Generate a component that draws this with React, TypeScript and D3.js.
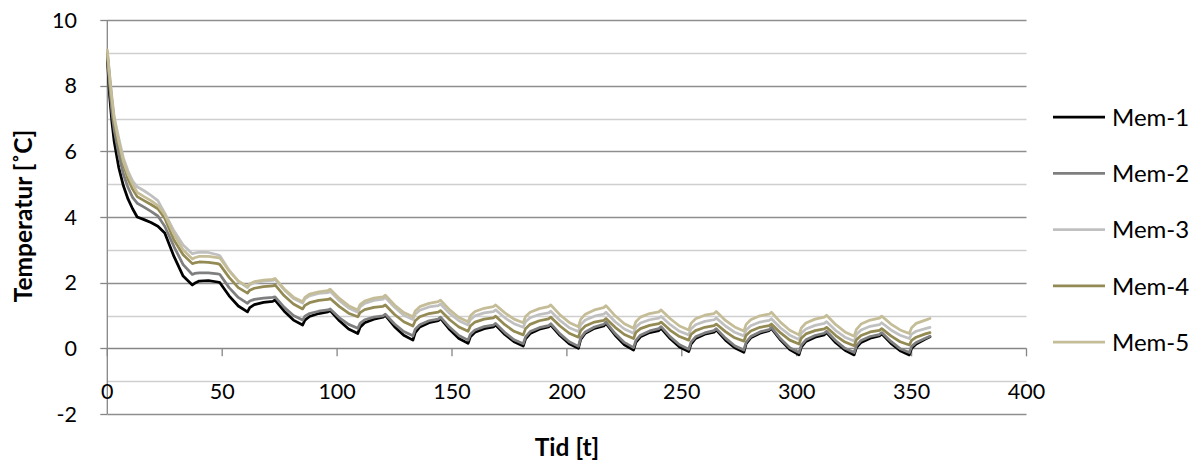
import React from "react";
import * as d3 from "d3";

// Time in hours
const time = [
  0, 1, 2, 3, 5, 7, 9, 11, 13,
  16, 19, 22, 25,
  29, 33, 37,
  38, 40, 44, 48, 49, 53, 57, 61,
  62, 64, 68, 72, 73, 77, 81, 85,
  86, 88, 92, 96, 97, 101, 105, 109,
  110, 112, 116, 120, 121, 125, 129, 133,
  134, 136, 140, 144, 145, 149, 153, 157,
  158, 160, 164, 168, 169, 173, 177, 181,
  182, 184, 188, 192, 193, 197, 201, 205,
  206, 208, 212, 216, 217, 221, 225, 229,
  230, 232, 236, 240, 241, 245, 249, 253,
  254, 256, 260, 264, 265, 269, 273, 277,
  278, 280, 284, 288, 289, 293, 297, 301,
  302, 304, 308, 312, 313, 317, 321, 325,
  326, 328, 332, 336, 337, 341, 345, 349,
  350, 352, 356, 358,
];

const mem1 = [
  8.85, 7.7, 6.9, 6.3, 5.5, 4.95, 4.55, 4.25, 4.0,
  3.92, 3.83, 3.72, 3.51,
  2.8, 2.2, 1.93,
  1.98, 2.05, 2.06, 2.02, 2.0, 1.6, 1.29, 1.11,
  1.24, 1.33, 1.4, 1.43, 1.47, 1.13, 0.86, 0.71,
  0.86, 0.97, 1.06, 1.11, 1.15, 0.84, 0.59, 0.45,
  0.64, 0.78, 0.89, 0.95, 1.0, 0.66, 0.4, 0.25,
  0.48, 0.65, 0.78, 0.84, 0.91, 0.57, 0.3, 0.15,
  0.35, 0.49, 0.6, 0.65, 0.71, 0.42, 0.2, 0.07,
  0.29, 0.45, 0.58, 0.65, 0.71, 0.39, 0.14, 0.0,
  0.27, 0.46, 0.61, 0.68, 0.76, 0.4, 0.11, -0.05,
  0.18, 0.35, 0.48, 0.54, 0.61, 0.29, 0.04, -0.1,
  0.13, 0.3, 0.43, 0.49, 0.56, 0.25, 0.02, -0.12,
  0.14, 0.32, 0.46, 0.54, 0.61, 0.25, -0.04, -0.2,
  0.04, 0.21, 0.34, 0.41, 0.48, 0.17, -0.06, -0.2,
  0.02, 0.18, 0.31, 0.38, 0.44, 0.15, -0.07, -0.2,
  0.0, 0.13, 0.28, 0.35,
];

const mem2 = [
  8.95, 8.0, 7.2, 6.65, 5.9, 5.3, 4.9, 4.6, 4.42,
  4.3, 4.17, 4.03, 3.72,
  3.1, 2.55, 2.25,
  2.28, 2.3, 2.3, 2.27, 2.25, 1.85, 1.55, 1.37,
  1.44, 1.49, 1.53, 1.55, 1.57, 1.25, 1.0, 0.86,
  0.98, 1.06, 1.13, 1.17, 1.2, 0.93, 0.73, 0.61,
  0.76, 0.87, 0.95, 0.99, 1.04, 0.74, 0.51, 0.38,
  0.58, 0.72, 0.84, 0.89, 0.95, 0.64, 0.39, 0.25,
  0.43, 0.56, 0.66, 0.71, 0.76, 0.48, 0.26, 0.14,
  0.35, 0.51, 0.63, 0.69, 0.75, 0.44, 0.2, 0.06,
  0.32, 0.5, 0.65, 0.73, 0.8, 0.45, 0.18, 0.02,
  0.24, 0.4, 0.53, 0.6, 0.66, 0.35, 0.11, -0.03,
  0.19, 0.35, 0.47, 0.54, 0.6, 0.31, 0.08, -0.05,
  0.19, 0.36, 0.5, 0.57, 0.64, 0.29, 0.02, -0.13,
  0.1, 0.26, 0.39, 0.46, 0.52, 0.23, 0.0, -0.13,
  0.08, 0.24, 0.36, 0.42, 0.48, 0.21, -0.01, -0.13,
  0.06, 0.18, 0.31, 0.37,
];

const mem3 = [
  9.05, 8.35, 7.65, 7.05, 6.4, 5.8, 5.4, 5.1, 4.92,
  4.8, 4.66, 4.5, 4.12,
  3.58, 3.15, 2.88,
  2.9, 2.93, 2.92, 2.85, 2.82, 2.38, 2.04, 1.85,
  1.94, 2.0, 2.05, 2.07, 2.1, 1.78, 1.52, 1.38,
  1.51, 1.6, 1.67, 1.7, 1.74, 1.45, 1.23, 1.1,
  1.26, 1.37, 1.46, 1.5, 1.55, 1.25, 1.01, 0.88,
  1.04, 1.16, 1.26, 1.3, 1.35, 1.06, 0.84, 0.71,
  0.87, 0.99, 1.08, 1.12, 1.17, 0.93, 0.75, 0.64,
  0.81, 0.93, 1.03, 1.08, 1.13, 0.85, 0.63, 0.51,
  0.72, 0.86, 0.98, 1.04, 1.1, 0.81, 0.59, 0.46,
  0.64, 0.77, 0.87, 0.92, 0.97, 0.72, 0.52, 0.41,
  0.59, 0.72, 0.82, 0.87, 0.92, 0.68, 0.49, 0.38,
  0.56, 0.69, 0.8, 0.85, 0.9, 0.62, 0.4, 0.27,
  0.46, 0.59, 0.7, 0.76, 0.81, 0.54, 0.34, 0.22,
  0.42, 0.56, 0.67, 0.72, 0.78, 0.56, 0.4, 0.3,
  0.43, 0.52, 0.6, 0.64,
];

const mem4 = [
  9.0, 8.2, 7.5, 6.9, 6.2, 5.6, 5.15, 4.85, 4.62,
  4.5, 4.38, 4.25, 3.96,
  3.3, 2.85, 2.58,
  2.6, 2.63, 2.62, 2.58, 2.55, 2.16, 1.85, 1.68,
  1.77, 1.83, 1.88, 1.9, 1.93, 1.6, 1.35, 1.2,
  1.31, 1.39, 1.46, 1.49, 1.52, 1.27, 1.07, 0.96,
  1.09, 1.18, 1.25, 1.28, 1.32, 1.03, 0.81, 0.68,
  0.84, 0.96, 1.06, 1.1, 1.15, 0.87, 0.65, 0.52,
  0.68, 0.8, 0.89, 0.93, 0.98, 0.72, 0.52, 0.41,
  0.6, 0.73, 0.84, 0.9, 0.95, 0.68, 0.46, 0.34,
  0.54, 0.68, 0.8, 0.85, 0.91, 0.64, 0.42, 0.3,
  0.48, 0.6, 0.7, 0.75, 0.8, 0.55, 0.36, 0.25,
  0.42, 0.54, 0.64, 0.69, 0.74, 0.51, 0.32, 0.22,
  0.4, 0.53, 0.64, 0.69, 0.74, 0.47, 0.25, 0.13,
  0.31, 0.44, 0.54, 0.59, 0.64, 0.39, 0.19, 0.08,
  0.26, 0.39, 0.5, 0.55, 0.6, 0.38, 0.2, 0.1,
  0.24, 0.34, 0.44, 0.48,
];

const mem5 = [
  9.08, 8.3, 7.6, 7.0, 6.3, 5.7, 5.3, 5.0, 4.75,
  4.62, 4.5, 4.35, 4.08,
  3.47, 3.0, 2.72,
  2.76, 2.8, 2.8, 2.76, 2.75, 2.36, 2.05, 1.88,
  1.97, 2.03, 2.08, 2.1, 2.13, 1.81, 1.56, 1.42,
  1.55, 1.65, 1.72, 1.76, 1.8, 1.52, 1.3, 1.17,
  1.33, 1.44, 1.53, 1.57, 1.62, 1.32, 1.09, 0.96,
  1.14, 1.27, 1.37, 1.42, 1.47, 1.17, 0.94, 0.81,
  0.99, 1.12, 1.22, 1.27, 1.32, 1.08, 0.89, 0.78,
  0.97, 1.1, 1.21, 1.27, 1.32, 1.02, 0.79, 0.66,
  0.88, 1.04, 1.17, 1.24, 1.3, 0.99, 0.75, 0.61,
  0.81, 0.95, 1.06, 1.11, 1.17, 0.9, 0.68, 0.56,
  0.76, 0.9, 1.01, 1.06, 1.12, 0.85, 0.65, 0.53,
  0.73, 0.87, 0.99, 1.04, 1.1, 0.79, 0.55, 0.41,
  0.62, 0.77, 0.89, 0.95, 1.01, 0.72, 0.5, 0.37,
  0.58, 0.74, 0.86, 0.92, 0.98, 0.74, 0.56, 0.45,
  0.63, 0.76, 0.86, 0.91,
];

const seriesNames = ["Mem-1", "Mem-2", "Mem-3", "Mem-4", "Mem-5"];
const seriesValues = [mem1, mem2, mem3, mem4, mem5];
const seriesColors = ["#000000", "#7f7f7f", "#c0c0c0", "#948a54", "#c4bd97"];

const xTicks = [0, 50, 100, 150, 200, 250, 300, 350, 400];
const yTicks = [-2, 0, 2, 4, 6, 8, 10];
const yMinorLines = [-1, 1, 3, 5, 7, 9];

const yTitle = "Temperatur [˚C]";
const xTitle = "Tid [t]";

const W = 1197;
const H = 463;
const FONT = "Lato, Carlito, Calibri, 'Open Sans', sans-serif";

export default function App() {
  const x = d3.scaleLinear().domain([0, 400]).range([107.3, 1026.5]);
  const y = d3.scaleLinear().domain([-2, 10]).range([414, 20]);
  const [x0, x1] = x.range();

  const line = d3
    .line<number>()
    .x((_, i) => x(time[i]))
    .y((d) => y(d))
    .curve(d3.curveLinear);

  const legendX = 1053;
  const legendTop = 117;
  const legendStep = 56.3;

  return (
    <svg
      width={W}
      height={H}
      style={{ position: "absolute", left: 0, top: 0, background: "#fff" }}
      fontFamily={FONT}
    >
      <rect width={W} height={H} fill="#fff" />

      {/* minor horizontal gridlines */}
      {yMinorLines.map((v) => (
        <line key={"mn" + v} x1={x0} x2={x1} y1={Math.round(y(v)) + 0.5} y2={Math.round(y(v)) + 0.5} stroke="#cfcfcf" strokeWidth={1.3} />
      ))}
      {/* major horizontal gridlines */}
      {yTicks.filter((v) => v !== 0).map((v) => (
        <line key={"mj" + v} x1={x0} x2={x1} y1={Math.round(y(v)) + 0.5} y2={Math.round(y(v)) + 0.5} stroke="#8e8e8e" strokeWidth={1.3} />
      ))}

      {/* y axis */}
      <line x1={x0} x2={x0} y1={y(10)} y2={y(-2)} stroke="#868686" strokeWidth={1.3} />
      {yTicks.map((v) => (
        <g key={"yt" + v}>
          <line x1={x0 - 7} x2={x0} y1={Math.round(y(v)) + 0.5} y2={Math.round(y(v)) + 0.5} stroke="#868686" strokeWidth={1.3} />
          <text x={77} y={y(v)} dy="0.36em" textAnchor="end" fontSize={21.5} fill="#000">
            {v}
          </text>
        </g>
      ))}

      {/* x axis at zero */}
      <line x1={x0} x2={x1} y1={Math.round(y(0)) + 0.5} y2={Math.round(y(0)) + 0.5} stroke="#868686" strokeWidth={1.3} />
      {xTicks.map((v) => (
        <g key={"xt" + v}>
          <line x1={x(v)} x2={x(v)} y1={y(0)} y2={y(0) + 8} stroke="#868686" strokeWidth={1.3} />
          <text x={x(v)} y={391} dy="0.36em" textAnchor="middle" fontSize={21.5} fill="#000">
            {v}
          </text>
        </g>
      ))}

      {/* series */}
      {seriesValues.map((vals, i) => (
        <path
          key={seriesNames[i]}
          d={line(vals) || ""}
          fill="none"
          stroke={seriesColors[i]}
          strokeWidth={2.75}
          strokeLinejoin="round"
          strokeLinecap="round"
        />
      ))}

      {/* axis titles */}
      <text
        transform={`translate(23, 216) rotate(-90)`}
        dy="0.36em"
        textAnchor="middle"
        fontSize={24.5}
        fontWeight="bold"
        fill="#000"
      >
        {yTitle}
      </text>
      <text x={567} y={447} dy="0.36em" textAnchor="middle" fontSize={24.5} fontWeight="bold" fill="#000">
        {xTitle}
      </text>

      {/* legend */}
      {seriesNames.map((name, i) => {
        const ly = legendTop + i * legendStep;
        return (
          <g key={"lg" + name}>
            <line x1={legendX} x2={legendX + 52} y1={ly} y2={ly} stroke={seriesColors[i]} strokeWidth={2.75} />
            <text x={legendX + 59} y={ly} dy="0.36em" fontSize={24} fill="#000">
              {name}
            </text>
          </g>
        );
      })}
    </svg>
  );
}
